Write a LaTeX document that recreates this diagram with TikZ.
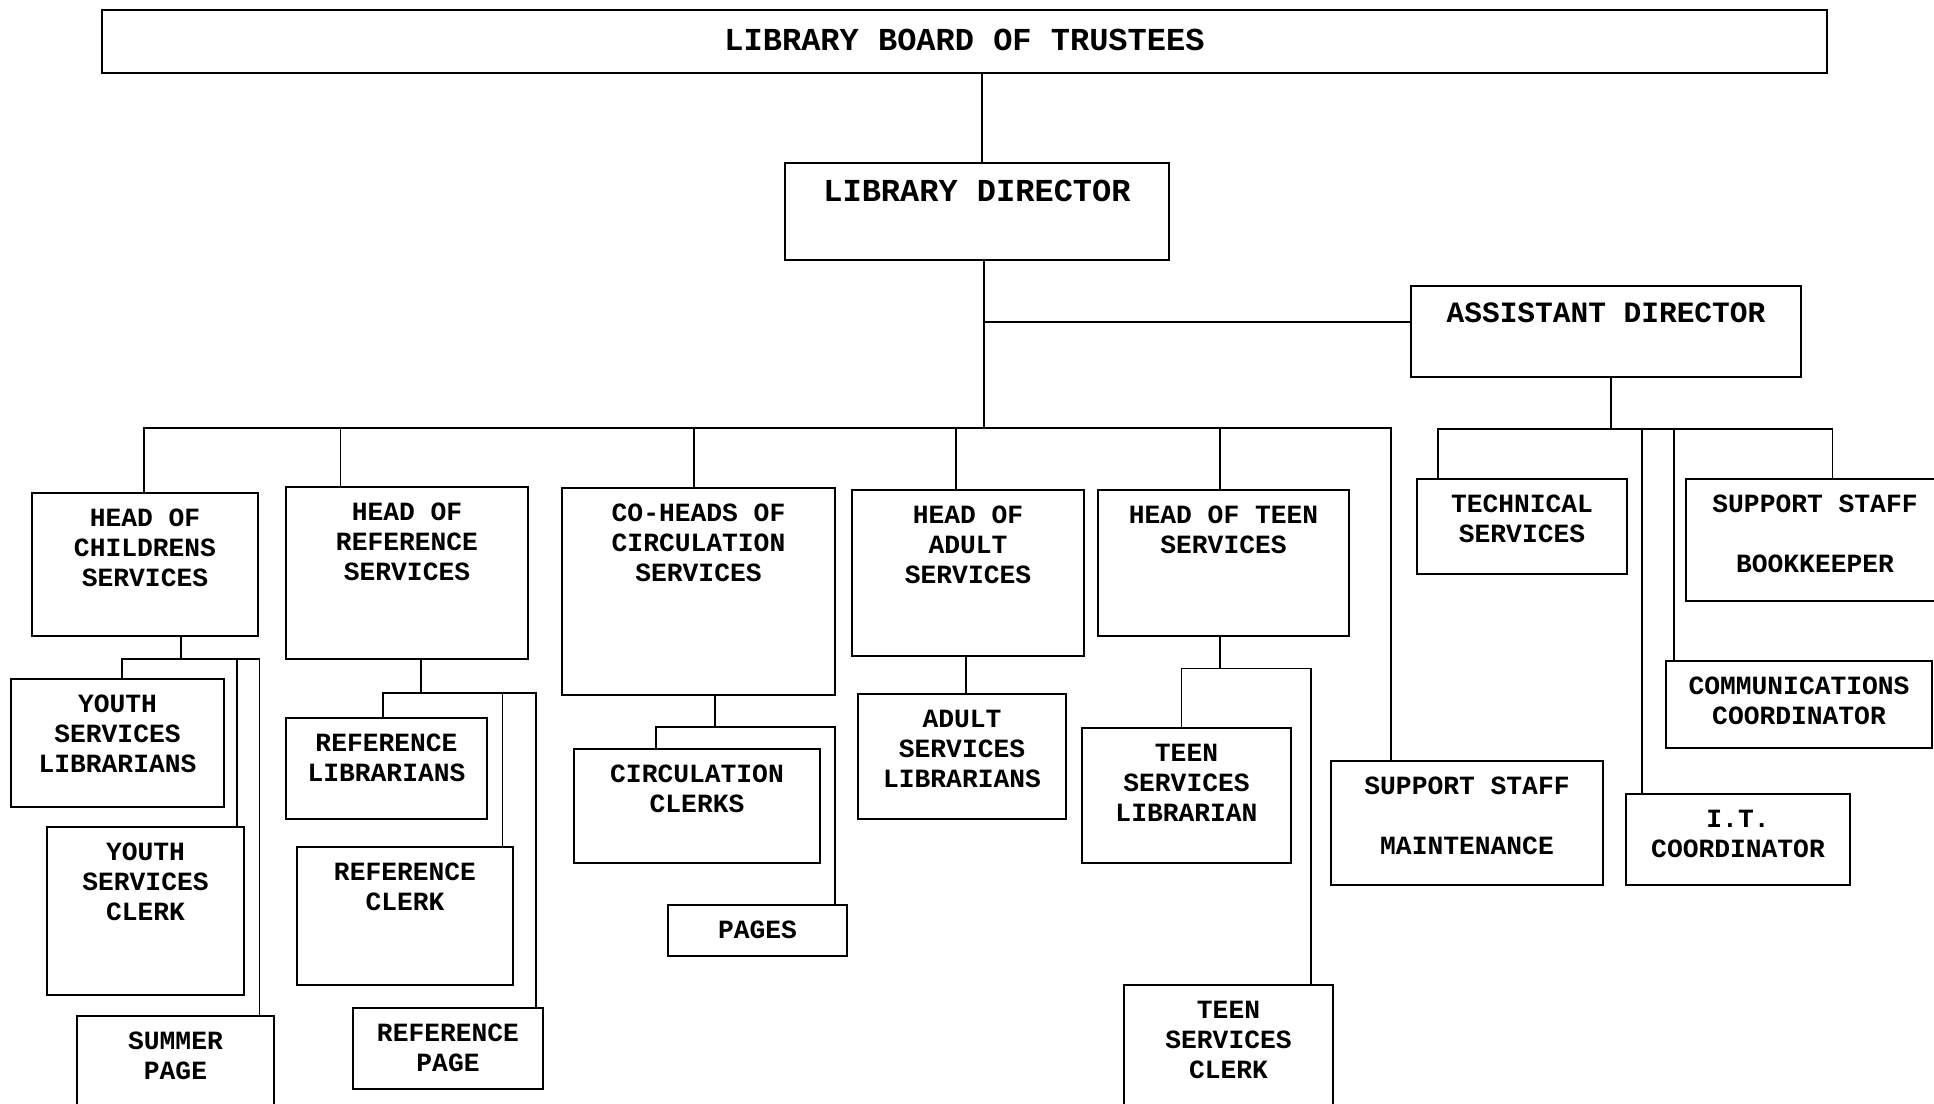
\documentclass[tikz,border=0pt]{standalone}
\usepackage{fontspec}
\newfontfamily\cour{Liberation Mono}
\newcommand\obox[7][9.5]{%
  \node[box, anchor=north west, minimum width={#5pt-#3pt}, minimum height={#6pt-#4pt}] (#2) at (#3,#4) {};
  \node[lbl, anchor=north] (#2t) at ([yshift=-#1pt]#2.north) {\rule{0pt}{24pt}#7};
}
\begin{document}
\begin{tikzpicture}[x=1pt,y=-1pt,
  box/.style={draw, line width=2pt, rectangle, inner sep=0pt, outer sep=0pt},
  conn/.style={line width=1.6pt},
  lbl/.style={inner sep=0pt, align=center, font={\cour\bfseries\fontsize{26.3pt}{30pt}\selectfont}}]
\useasboundingbox (0,0) rectangle (1934,1103);
\fill[white] (0,0) rectangle (1934,1103);
\clip (0,0) rectangle (1934,1103);

% boxes
\obox[16]{board}{102}{10}{1827}{73}{{\fontsize{32pt}{36pt}\selectfont LIBRARY BOARD OF TRUSTEES}}
\obox[14.5]{dir}{785}{163}{1169}{260}{{\fontsize{32pt}{36pt}\selectfont LIBRARY DIRECTOR}}
\obox[12.3]{ad}{1411}{286}{1801}{377}{{\fontsize{29.5pt}{34pt}\selectfont ASSISTANT DIRECTOR}}
\obox{hc}{32}{493}{258}{636}{HEAD OF\\CHILDRENS\\SERVICES}
\obox{hr}{286}{487}{528}{659}{HEAD OF\\REFERENCE\\SERVICES}
\obox{co}{562}{488}{835}{695}{CO-HEADS OF\\CIRCULATION\\SERVICES}
\obox{ha}{852}{490}{1084}{656}{HEAD OF\\ADULT\\SERVICES}
\obox{ht}{1098}{490}{1349}{636}{HEAD OF TEEN\\SERVICES}
\obox{maint}{1331}{761}{1603}{885}{SUPPORT STAFF\\\mbox{}\\MAINTENANCE}
\obox{tech}{1417}{479}{1627}{574}{TECHNICAL\\SERVICES}
\obox{book}{1686}{479}{1944}{601}{SUPPORT STAFF\\\mbox{}\\BOOKKEEPER}
\obox{comm}{1666}{661}{1932}{748}{COMMUNICATIONS\\COORDINATOR}
\obox{it}{1626}{794}{1850}{885}{I.T.\\COORDINATOR}
\obox{ysl}{11}{679}{224}{807}{YOUTH\\SERVICES\\LIBRARIANS}
\obox{ysc}{47}{827}{244}{995}{YOUTH\\SERVICES\\CLERK}
\obox{sp}{77}{1016}{274}{1130}{SUMMER\\PAGE}
\obox{rl}{286}{718}{487}{819}{REFERENCE\\LIBRARIANS}
\obox{rc}{297}{847}{513}{985}{REFERENCE\\CLERK}
\obox{rp}{353}{1008}{543}{1089}{REFERENCE\\PAGE}
\obox{cc}{574}{749}{820}{863}{CIRCULATION\\CLERKS}
\obox{pg}{668}{905}{847}{956}{PAGES}
\obox{asl}{858}{694}{1066}{819}{ADULT\\SERVICES\\LIBRARIANS}
\obox{tsl}{1082}{728}{1291}{863}{TEEN\\SERVICES\\LIBRARIAN}
\obox{tsc}{1124}{985}{1333}{1130}{TEEN\\SERVICES\\CLERK}

% top connectors
\coordinate (kB) at (982,0);
\draw[conn] (board.south -| kB) -- (dir.north -| kB);
\coordinate (kD) at (984,428);
\draw[conn] (dir.south -| kD) -- (kD);
\coordinate (kA) at (984,322);
\draw[conn] (kA) -- (kA -| ad.west);

% main bus
\coordinate (m1) at (144,428);
\coordinate (m2) at (340.6,428);
\coordinate (m3) at (694,428);
\coordinate (m4) at (956,428);
\coordinate (m5) at (1220,428);
\coordinate (m6) at (1391,428);
\draw[conn] (hc.north -| m1) |- (m6) -- (m6 |- maint.north);
\draw[conn] (m2) -- (m2 |- hr.north);
\draw[conn] (m3) -- (m3 |- co.north);
\draw[conn] (m4) -- (m4 |- ha.north);
\draw[conn] (m5) -- (m5 |- ht.north);

% children's
\coordinate (c0) at (181,659);
\coordinate (c1) at (122,659);
\coordinate (c2) at (237,659);
\coordinate (c3) at (259.5,659);
\draw[conn] (hc.south -| c0) -- (c0);
\draw[conn] (ysl.north -| c1) |- (c3) -- (c3 |- sp.north);
\draw[conn] (c2) -- (c2 |- ysc.north);

% reference
\coordinate (r0) at (421,693);
\coordinate (r1) at (383,693);
\coordinate (r2) at (502.5,693);
\coordinate (r3) at (536,693);
\draw[conn] (hr.south -| r0) -- (r0);
\draw[conn] (rl.north -| r1) |- (r3) -- (r3 |- rp.north);
\draw[conn] (r2) -- (r2 |- rc.north);

% circulation
\coordinate (q0) at (715,727);
\coordinate (q1) at (656,727);
\coordinate (q2) at (835,727);
\draw[conn] (co.south -| q0) -- (q0);
\draw[conn] (cc.north -| q1) |- (q2) -- (q2 |- pg.north);

% adult
\coordinate (a0) at (966,0);
\draw[conn] (ha.south -| a0) -- (asl.north -| a0);

% teen
\coordinate (t0) at (1220,668.5);
\coordinate (t1) at (1181.6,668.5);
\coordinate (t2) at (1310.7,668.5);
\draw[conn] (ht.south -| t0) -- (t0);
\draw[conn] (tsl.north -| t1) |- (t2) -- (t2 |- tsc.north);

% assistant director
\coordinate (s0) at (1611,429);
\coordinate (s1) at (1438,429);
\coordinate (s2) at (1642,429);
\coordinate (s3) at (1674,429);
\coordinate (s4) at (1832.5,429);
\draw[conn] (ad.south -| s0) -- (s0);
\draw[conn] (tech.north -| s1) |- (s4) -- (s4 |- book.north);
\draw[conn] (s2) -- (s2 |- it.north);
\draw[conn] (s3) -- (s3 |- comm.north);
\end{tikzpicture}
\end{document}
